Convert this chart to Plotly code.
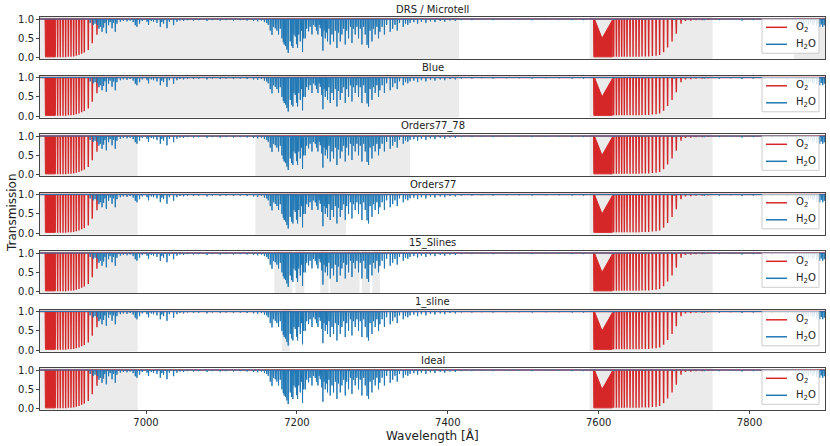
import plotly.graph_objects as go
from plotly.subplots import make_subplots

# wavelength limits of the plot [Angstrom]
wl_min, wl_max = 6859.5, 7900.0

# panel names (top to bottom)
panels = ["DRS / Microtell", "Blue", "Orders77_78", "Orders77",
          "15_Slines", "1_sline", "Ideal"]

# fitted wavelength regions (grey bands) per panel
regions = [
    [(6859.5, 7415), (7588, 7751), (7859, 7900)],
    [(6859.5, 7415), (7588, 7751)],
    [(6859.5, 6989), (7145, 7350), (7588, 7751)],
    [(6859.5, 6989), (7145, 7265), (7588, 7751)],
    [(6859.5, 6989), (7170, 7194), (7198, 7210), (7231, 7242), (7244, 7283),
     (7286, 7297), (7300, 7310), (7588, 7751)],
    [(6859.5, 6989), (7180, 7191), (7588, 7751)],
    [(6859.5, 6989), (7588, 7751)],
]

# O2 isolated lines: centre [A] and line-core transmission
o2_wave = [6882.9, 6886.4, 6890.0, 6893.5, 6897.1, 6900.6, 6904.1, 6907.6,
           6911.2, 6914.7, 6918.2, 6923.5, 6928.8, 6935.0,
           7619.9, 7623.5, 7627.0, 7630.5, 7634.0, 7637.6, 7641.6, 7645.6,
           7649.6, 7653.5, 7657.5, 7661.9, 7666.3, 7671.2, 7676.1, 7680.8,
           7686.1, 7691.4, 7697.3, 7702.9, 7709.2,
           7715.0, 7722.0, 7729.0, 7737.0, 7745.0]
o2_trans = [0.01, 0.01, 0.01, 0.01, 0.02, 0.02, 0.03, 0.05,
            0.07, 0.10, 0.13, 0.20, 0.37, 0.59,
            0.02, 0.02, 0.02, 0.02, 0.02, 0.02, 0.02, 0.02,
            0.02, 0.02, 0.03, 0.03, 0.03, 0.04, 0.05, 0.07,
            0.14, 0.26, 0.42, 0.62, 0.88,
            0.95, 0.96, 0.97, 0.97, 0.98]

# saturated O2 band heads (B and A band), outline vertices
o2_head_wave = [6866.2, 6866.7, 6879.9, 6880.3, None,
                7593.2, 7593.6, 7618.0, 7618.2, 7604.5, 7594.4]
o2_head_trans = [1.0, 0.02, 0.02, 1.0, None,
                 1.0, 0.02, 0.02, 0.97, 0.50, 1.0]

# H2O lines: centre [A] and line-core transmission
h2o_wave = [6926.0, 6930.0, 6932.5, 6935.5, 6937.6, 6939.4, 6941.7, 6943.8,
            6945.5, 6947.4, 6950.4, 6952.5, 6955.0, 6957.0, 6959.3, 6961.5,
            6966.0, 6970.0, 6974.8, 6979.0, 6983.0, 6985.8, 6988.0, 6991.5,
            6995.0, 7001.3, 7003.4, 7007.0, 7010.0, 7014.5, 7019.0, 7021.0,
            7023.3, 7027.8, 7031.0, 7036.6, 7041.0, 7045.0, 7049.8, 7055.0,
            7063.0, 7070.0, 7080.8, 7088.0, 7098.4, 7106.0, 7116.0, 7125.0,
            7134.0, 7142.6, 7148.0, 7153.0, 7157.0, 7160.0, 7162.0, 7164.7,
            7167.0, 7169.0, 7171.3, 7173.5, 7175.7, 7178.0, 7180.2, 7182.0,
            7183.2, 7185.0, 7186.8, 7188.5, 7191.2, 7193.0, 7194.7, 7196.0,
            7197.8, 7199.5, 7200.9, 7202.5, 7204.5, 7206.0, 7207.5, 7209.0,
            7211.1, 7213.0, 7215.5, 7217.5, 7220.0, 7222.0, 7224.3, 7226.0,
            7227.9, 7229.5, 7231.0, 7233.0, 7234.5, 7236.0, 7237.6, 7239.0,
            7240.6, 7242.5, 7244.2, 7246.5, 7248.6, 7251.0, 7253.1, 7255.0,
            7257.5, 7259.7, 7262.0, 7264.1, 7266.0, 7268.5, 7271.0, 7273.0,
            7275.0, 7277.3, 7279.5, 7281.7, 7284.0, 7286.2, 7288.5, 7290.6,
            7293.0, 7295.0, 7297.0, 7299.5, 7301.5, 7303.8, 7306.0, 7308.2,
            7310.0, 7313.0, 7316.0, 7319.0, 7323.7, 7327.0, 7330.0, 7333.0,
            7336.0, 7341.0, 7344.0, 7347.0, 7350.0, 7355.0, 7360.0, 7365.0,
            7371.0, 7377.0, 7383.0, 7390.0, 7396.0, 7403.0, 7410.0, 7418.0,
            7432.0, 7445.0, 7460.0, 7478.0, 7495.0, 7512.0, 7530.0, 7548.0,
            7565.0, 7580.0, 7620.0, 7660.0, 7700.0, 7740.0, 7760.0, 7775.0,
            7790.0, 7805.0, 7818.0, 7830.0, 7840.0, 7850.0, 7862.0, 7866.0,
            7869.0, 7872.0, 7875.0, 7878.0, 7881.0, 7884.0, 7886.0, 7889.0,
            7891.0, 7893.0, 7895.0, 7897.0, 7899.0]
h2o_trans = [0.90, 0.85, 0.88, 0.85, 0.75, 0.80, 0.67, 0.78,
             0.90, 0.63, 0.84, 0.92, 0.76, 0.90, 0.67, 0.88,
             0.93, 0.95, 0.94, 0.96, 0.92, 0.84, 0.80, 0.88,
             0.95, 0.93, 0.85, 0.95, 0.93, 0.90, 0.80, 0.92,
             0.88, 0.76, 0.93, 0.84, 0.93, 0.96, 0.95, 0.97,
             0.96, 0.97, 0.95, 0.97, 0.96, 0.97, 0.96, 0.97,
             0.96, 0.95, 0.94, 0.96, 0.92, 0.90, 0.85, 0.70,
             0.59, 0.80, 0.76, 0.70, 0.60, 0.75, 0.50, 0.40,
             0.34, 0.30, 0.21, 0.12, 0.42, 0.30, 0.25, 0.60,
             0.55, 0.35, 0.25, 0.60, 0.42, 0.70, 0.15, 0.50,
             0.50, 0.75, 0.68, 0.80, 0.60, 0.85, 0.80, 0.70,
             0.60, 0.85, 0.76, 0.55, 0.18, 0.70, 0.50, 0.65,
             0.42, 0.75, 0.34, 0.60, 0.42, 0.70, 0.25, 0.65,
             0.42, 0.60, 0.75, 0.34, 0.70, 0.50, 0.80, 0.38,
             0.75, 0.60, 0.80, 0.50, 0.75, 0.34, 0.80, 0.60,
             0.33, 0.25, 0.70, 0.42, 0.75, 0.60, 0.80, 0.50,
             0.67, 0.80, 0.60, 0.85, 0.67, 0.75, 0.85, 0.70,
             0.90, 0.80, 0.88, 0.85, 0.90, 0.92, 0.88, 0.93,
             0.90, 0.94, 0.92, 0.95, 0.93, 0.96, 0.95, 0.97,
             0.97, 0.98, 0.97, 0.98, 0.98, 0.97, 0.98, 0.98,
             0.97, 0.97, 0.97, 0.98, 0.97, 0.97, 0.97, 0.98,
             0.96, 0.97, 0.96, 0.95, 0.96, 0.94, 0.93, 0.90,
             0.94, 0.88, 0.92, 0.86, 0.90, 0.85, 0.90, 0.82,
             0.88, 0.80, 0.86, 0.80, 0.84]

O2_COLOR = "#d62728"
H2O_COLOR = "#1f77b4"
SPAN_COLOR = "#ebebeb"
FONT = "DejaVu Sans"
HW = 0.35  # half width of the drawn line profile [A]


def spectrum(wave, trans):
    xs, ys = [wl_min], [1.0]
    for c, t in sorted(zip(wave, trans)):
        xs += [c - HW, c, c + HW]
        ys += [1.0, t, 1.0]
    xs.append(wl_max)
    ys.append(1.0)
    return xs, ys


o2_x, o2_y = spectrum(o2_wave, o2_trans)
h2o_x, h2o_y = spectrum(h2o_wave, h2o_trans)

# figure geometry (pixels)
W, H = 830, 446
ML, MR, MT, MB = 40, 5, 17, 36
plot_w = W - ML - MR
plot_h = H - MT - MB
panel_h, pitch = 42, 58.5


def px(x):
    return (x - ML) / plot_w


def py(y):
    return (H - MB - y) / plot_h


n = len(panels)
fig = make_subplots(rows=n, cols=1, shared_xaxes=True)

legend_entries = [("O<sub>2</sub>", O2_COLOR, 8), ("H<sub>2</sub>O", H2O_COLOR, 25)]

for k, name in enumerate(panels):
    row = k + 1
    top = MT + pitch * k
    fig.update_yaxes(domain=[py(top + panel_h), py(top)], row=row, col=1)

    fig.add_trace(go.Scatter(x=o2_x, y=o2_y, mode="lines", name="O2",
                             line=dict(color=O2_COLOR, width=1.4, simplify=False),
                             showlegend=False, hoverinfo="skip"), row=row, col=1)
    fig.add_trace(go.Scatter(x=o2_head_wave, y=o2_head_trans, mode="lines",
                             fill="toself", fillcolor=O2_COLOR,
                             line=dict(color=O2_COLOR, width=1),
                             showlegend=False, hoverinfo="skip"), row=row, col=1)
    fig.add_trace(go.Scatter(x=h2o_x, y=h2o_y, mode="lines", name="H2O",
                             line=dict(color=H2O_COLOR, width=1, simplify=False),
                             showlegend=False, hoverinfo="skip"), row=row, col=1)

    for a, b in regions[k]:
        fig.add_vrect(x0=a, x1=b, fillcolor=SPAN_COLOR, opacity=1,
                      line_width=0, layer="below", row=row, col=1)

    # panel title
    fig.add_annotation(text=name, xref="paper", yref="paper", x=0.5, y=py(top - 8),
                       xanchor="center", yanchor="middle", showarrow=False,
                       font=dict(family=FONT, size=10, color="#222"))

    # legend box in the upper right corner of the panel
    box_top = top + 2.3
    fig.add_shape(type="rect", xref="paper", yref="paper",
                  x0=px(762), x1=px(819), y0=py(box_top + 34), y1=py(box_top),
                  fillcolor="rgba(255,255,255,0.85)",
                  line=dict(color="#cccccc", width=1), layer="above")
    for label, color, dy in legend_entries:
        fig.add_shape(type="line", xref="paper", yref="paper",
                      x0=px(766), x1=px(787), y0=py(box_top + dy), y1=py(box_top + dy),
                      line=dict(color=color, width=1.5), layer="above")
        fig.add_annotation(text=label, xref="paper", yref="paper",
                           x=px(794), y=py(box_top + dy), xanchor="left", yanchor="middle",
                           showarrow=False, font=dict(family=FONT, size=10, color="#222"))

    # only the bottom panel carries x ticks
    fig.update_xaxes(ticks="outside" if row == n else "", row=row, col=1)

fig.update_xaxes(range=[wl_min, wl_max], showgrid=False, zeroline=False,
                 showline=True, linecolor="#444", linewidth=1, mirror=True,
                 ticklen=3, tickcolor="#444",
                 tickvals=[7000, 7200, 7400, 7600, 7800],
                 tickfont=dict(family=FONT, size=10, color="#222"))
fig.update_yaxes(range=[-0.035, 1.052], showgrid=False, zeroline=False,
                 showline=True, linecolor="#444", linewidth=1, mirror=True,
                 ticks="outside", ticklen=3, tickcolor="#444",
                 tickvals=[0, 0.5, 1.0], tickformat=".1f",
                 tickfont=dict(family=FONT, size=10, color="#222"))

fig.add_annotation(text="Wavelength [Å]", xref="paper", yref="paper",
                   x=0.5, y=py(435), xanchor="center", yanchor="middle",
                   showarrow=False, font=dict(family=FONT, size=12, color="#222"))
fig.add_annotation(text="Transmission", xref="paper", yref="paper",
                   x=px(12), y=py(213), xanchor="center", yanchor="middle",
                   textangle=-90, showarrow=False,
                   font=dict(family=FONT, size=12, color="#222"))

fig.update_layout(width=W, height=H, margin=dict(l=ML, r=MR, t=MT, b=MB),
                  plot_bgcolor="white", paper_bgcolor="white",
                  font=dict(family=FONT, size=10, color="#222"))

# drop the browser's default body margin so the figure sits at the page origin
fig.write_html("out.html", config={"displayModeBar": False},
               post_script="document.body.style.margin='0px';")
